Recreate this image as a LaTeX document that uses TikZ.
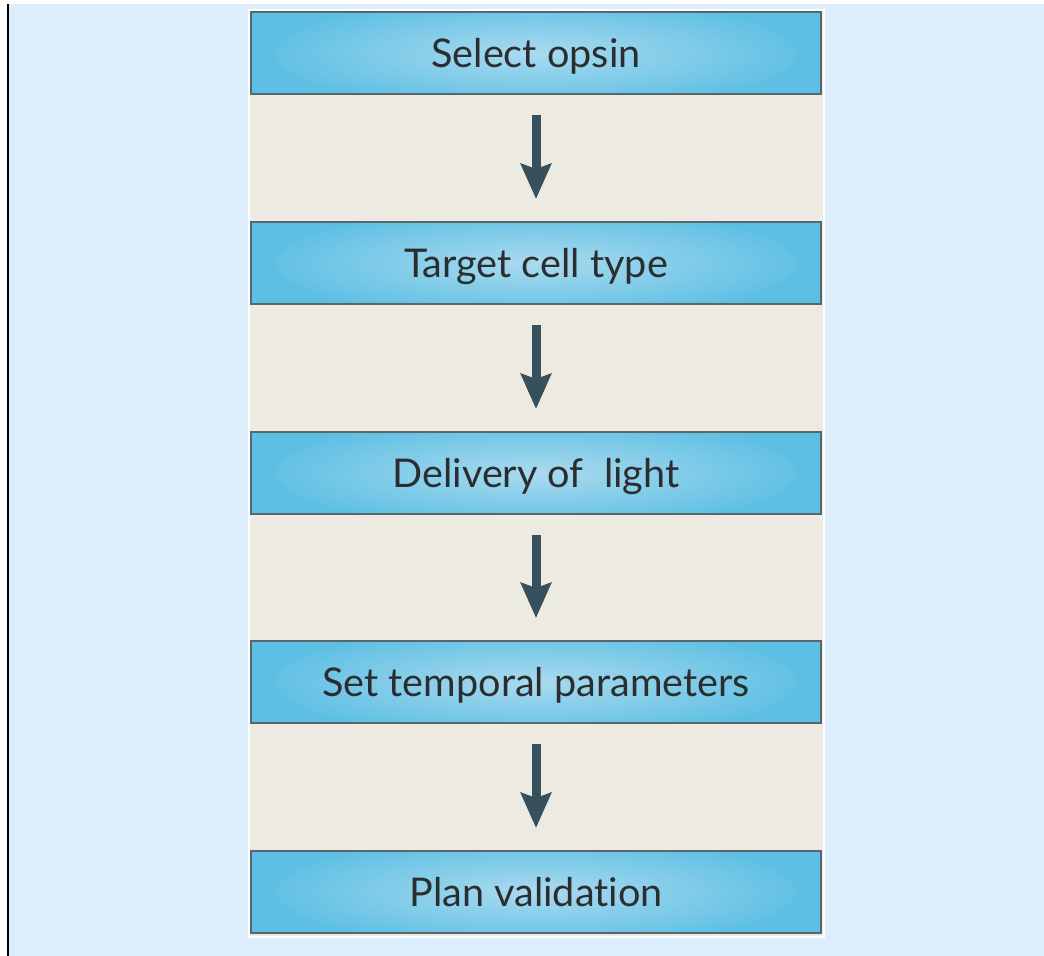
\documentclass[tikz,border=0pt]{standalone}
\usepackage{fontspec}
\setmainfont{Lato}[Ligatures={NoCommon}]
\usetikzlibrary{arrows.meta}
\definecolor{pagebg}{HTML}{DCEDFC}
\definecolor{panelbg}{HTML}{ECEAE1}
\definecolor{boxblue}{HTML}{5CBFE3}
\definecolor{boxlight}{HTML}{AADAEF}
\definecolor{boxedge}{HTML}{58666E}
\definecolor{arrowcol}{HTML}{37505E}
\definecolor{textcol}{HTML}{2B2E31}
\tikzset{
  stepbox/.style={draw=boxedge, line width=1pt, fill=boxblue,
    minimum width=285pt, minimum height=41pt, inner sep=0pt,
    text height=14.5pt, text depth=0pt,
    text=textcol, font=\fontsize{19.8}{22}\selectfont,
    path picture={\shade[inner color=boxlight, outer color=boxblue]
      (path picture bounding box.center) ellipse [x radius=130pt, y radius=28pt];}},
  flowarrow/.style={draw=arrowcol, line width=4.5pt,
    -{Stealth[length=17.5pt, width=15pt, inset=2.5pt]},
    shorten <=10pt, shorten >=11pt}
}
\begin{document}
\begin{tikzpicture}[x=0.5pt, y=-0.5pt]
    \useasboundingbox (0,0) rectangle (1044,956);
    % page and panel
    \fill[white] (0,0) rectangle (1044,956);
    \fill[pagebg] (8.5,4.5) rectangle (1044,956);
    \fill[black] (7,4.5) rectangle (9,956);
    \fill[white] (248,9) rectangle (825,938);
    \fill[panelbg] (250,11) rectangle (823,936);
    \node[stepbox] (s1) at (536, 53.5) {Select opsin};
    \node[stepbox] (s2) at (536, 263) {Target cell type};
    \node[stepbox] (s3) at (536, 473) {Delivery of\ \ light};
    \node[stepbox] (s4) at (536, 682) {Set temporal parameters};
    \node[stepbox] (s5) at (536, 892) {Plan validation};
    \draw[flowarrow] (s1) -- (s2);
    \draw[flowarrow] (s2) -- (s3);
    \draw[flowarrow] (s3) -- (s4);
    \draw[flowarrow] (s4) -- (s5);
\end{tikzpicture}
\end{document}
